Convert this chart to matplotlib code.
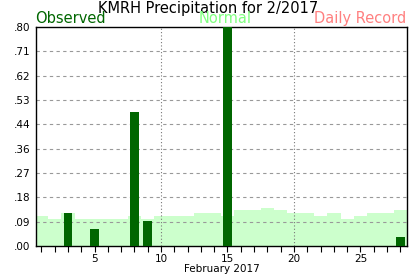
import numpy as np
import matplotlib
matplotlib.use('Agg')
import matplotlib.pyplot as plt

# data
days = list(range(1, 29))
observed_days = [3, 5, 8, 9, 15, 28]
observed = [0.12, 0.062, 0.49, 0.092, 0.80, 0.033]
normal = [0.11, 0.10, 0.12, 0.10, 0.10, 0.10, 0.10, 0.11, 0.10, 0.11,
          0.11, 0.11, 0.12, 0.12, 0.11, 0.13, 0.13, 0.14, 0.13, 0.12,
          0.12, 0.11, 0.12, 0.10, 0.11, 0.12, 0.12, 0.13]
ytick_labels = ['.00', '.09', '.18', '.27', '.36', '.44', '.53', '.62', '.71', '.80']
xtick_labels = ['5', '10', '15', '20', '25']

fig = plt.figure(figsize=(4.17, 2.76), dpi=100)
ax = fig.add_axes([36/417, 30/276, 371/417, 219/276])

# normal as step area
edges = np.arange(0.5, 29.5, 1.0)
ax.stairs(normal, edges, fill=True, color='#ccffcc', zorder=1)

# grid
yt = np.linspace(0, 0.8, 10)
for y in yt[1:-1]:
    ax.axhline(y, color='#999999', linestyle=(0, (3, 3)), linewidth=0.8, zorder=2)
for x in [10, 20]:
    ax.axvline(x, color='#777777', linestyle=(0, (1, 2)), linewidth=0.8, zorder=2)

ax.bar(observed_days, observed, width=0.65, color='#006600', zorder=3)

ax.set_xlim(0.6, 28.5)
ax.set_ylim(0, 0.8)
ax.set_yticks(yt)
ax.set_yticklabels(ytick_labels, fontsize=7.5)
ax.tick_params(axis='y', length=0, pad=4)
ax.set_xticks(days, minor=True)
ax.set_xticks([5, 10, 15, 20, 25])
ax.set_xticklabels(xtick_labels, fontsize=7.5)
ax.tick_params(axis='x', which='both', direction='out', length=4, width=0.8, pad=2)
ax.set_xlabel('February 2017', fontsize=7.5, labelpad=0)
for s in ax.spines.values():
    s.set_linewidth(1.0)

fig.text(0.5, 1 - 1/276, 'KMRH Precipitation for 2/2017', ha='center', va='top', fontsize=10.5)
fig.text(35/417, (276-23)/276, 'Observed', ha='left', va='baseline', fontsize=10.5, color='#006600')
fig.text(225/417, (276-23)/276, 'Normal', ha='center', va='baseline', fontsize=10.5, color='#80ff80')
fig.text(406/417, (276-23)/276, 'Daily Record', ha='right', va='baseline', fontsize=10.5, color='#ff8080')

fig.savefig('out.png', dpi=100)
